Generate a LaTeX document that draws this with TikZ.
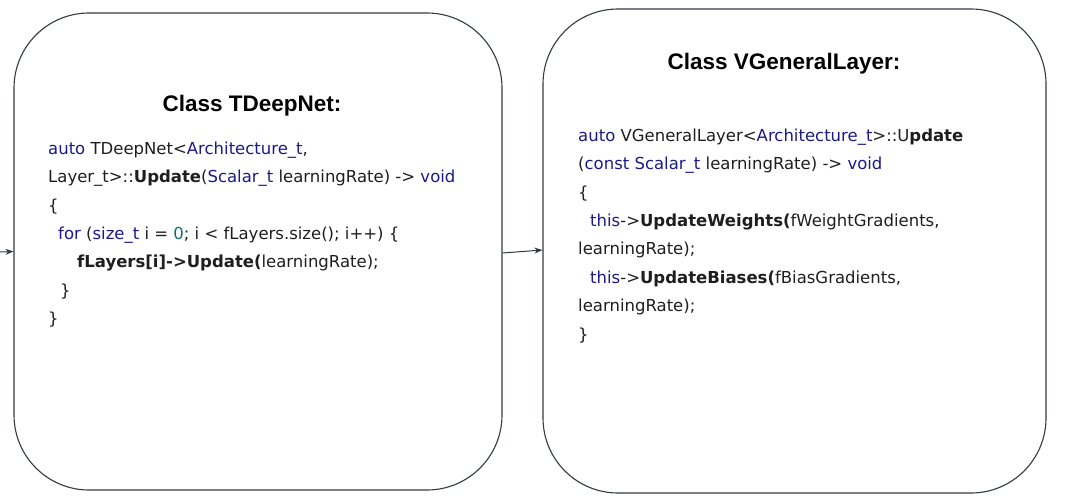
\documentclass[tikz,border=0pt]{standalone}
\usepackage{fontspec}
\setmainfont{DejaVu Sans}
\newfontfamily\titlefont{Liberation Sans}
\usetikzlibrary{arrows.meta,positioning}
\definecolor{kwblue}{RGB}{26,26,140}
\definecolor{numteal}{RGB}{12,112,112}
\definecolor{edgegray}{RGB}{52,58,66}
\definecolor{codetext}{RGB}{30,30,30}
\newcommand{\kw}[1]{\textcolor{kwblue}{#1}}
\newcommand{\numlit}[1]{\textcolor{numteal}{#1}}
\tikzset{
    class box/.style={draw=edgegray,line width=1.1pt,rounded corners=75pt,inner sep=0pt},
    class title/.style={font=\titlefont\bfseries\fontsize{22.5pt}{26pt}\selectfont,anchor=base,inner sep=0pt},
    code block/.style={font=\fontsize{16.5pt}{28.4pt}\selectfont,text=codetext,align=left,anchor=north west,inner sep=0pt},
    arr/.style={-{Stealth[length=8pt,width=6pt]},draw=edgegray,line width=1pt},
}

\begin{document}
\begin{tikzpicture}[x=1pt,y=-1pt]
    \useasboundingbox (0,0) rectangle (1067,503);
    % the two classes
    \node[class box,minimum width=488pt,minimum height=477pt] (deepnet) at (258,251.5) {};
    \node[class box,minimum width=503pt,minimum height=484pt] (genlayer) at (794.5,251) {};
    \node[class title] (deepnettitle) at (252,111) {Class TDeepNet:};
    \node[class title] (genlayertitle) at (784,70) {Class VGeneralLayer:};
    \node[code block] (deepnetcode) at (48,141.5) {%
        \kw{auto} TDeepNet<\kw{Architecture\_t},\\
        Layer\_t>::\textbf{Update}(\kw{Scalar\_t} learningRate) -> \kw{void}\\
        \{\\
        \hspace*{10pt}\kw{for} (\kw{size\_t} i = \numlit{0}; i < fLayers.size(); i++) \{\\
        \hspace*{29pt}\textbf{fLayers[i]->Update(}learningRate);\\
        \hspace*{12pt}\}\\
        \}};
    \node[code block] (genlayercode) at (578,128.5) {%
        \kw{auto} VGeneralLayer<\kw{Architecture\_t}>::U\textbf{pdate}\\
        (\kw{const Scalar\_t} learningRate) -> \kw{void}\\
        \{\\
        \hspace*{12pt}\kw{this}->\textbf{UpdateWeights(}fWeightGradients,\\
        learningRate);\\
        \hspace*{12pt}\kw{this}->\textbf{UpdateBiases(}fBiasGradients,\\
        learningRate);\\
        \}};
    % connectors
    \coordinate (entry) at (0,252);
    \draw[arr] (entry) -- (deepnet.west);
    \draw[arr] ([yshift=-1.5pt]deepnet.east) -- ([yshift=1pt]genlayer.west);
\end{tikzpicture}
\end{document}
